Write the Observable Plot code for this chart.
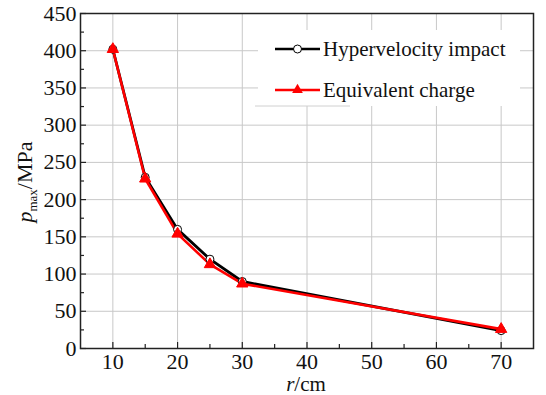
<!DOCTYPE html>
<html><head><meta charset="utf-8">
<script src="https://cdn.jsdelivr.net/npm/d3@7"></script>
<script src="https://cdn.jsdelivr.net/npm/@observablehq/plot@0.6"></script>
<style>body{margin:0;background:#fff} svg text{font-family:"Liberation Serif","DejaVu Serif",serif !important}</style>
</head><body><div id="chart"></div>
<script>
const r = [10, 15, 20, 25, 30, 70];
const impact = [402, 230, 160, 120, 90, 24];
const charge = [402, 228, 154, 113, 87, 26];
const seriesNames = ["Hypervelocity impact", "Equivalent charge"];
const xMajor = [10, 20, 30, 40, 50, 60, 70];
const xMinor = [15, 25, 35, 45, 55, 65];
const yMajor = [0, 50, 100, 150, 200, 250, 300, 350, 400, 450];
const yMinor = [25, 75, 125, 175, 225, 275, 325, 375, 425];

const dImpact = r.map((x, i) => ({x, y: impact[i]}));
const dCharge = r.map((x, i) => ({x, y: charge[i]}));
const font = "Liberation Serif, DejaVu Serif, serif";

const W = 546, H = 395;
const plot = Plot.plot({
  width: W, height: H,
  marginLeft: 80, marginTop: 13, marginRight: 13, marginBottom: 47,
  style: {fontFamily: font, fontSize: "20px", background: "#fff", color: "#111"},
  x: {domain: [5, 75], label: null},
  y: {domain: [0, 450], label: null},
  marks: [
    Plot.gridX(xMajor, {stroke: "#c8c8c8", strokeOpacity: 1}),
    Plot.gridY(yMajor, {stroke: "#c8c8c8", strokeOpacity: 1}),
    Plot.axisX({ticks: xMajor, tickSize: 0, tickPadding: 5, fontSize: 22, tickFormat: d => d}),
    Plot.axisY({ticks: yMajor, tickSize: 0, tickPadding: 4, fontSize: 22, tickFormat: d => d}),
    Plot.axisX({ticks: xMajor, tickSize: 6, dy: -6, text: null, stroke: "#222", strokeWidth: 1.2}),
    Plot.axisX({ticks: xMinor, tickSize: 4, dy: -4, text: null, stroke: "#222", strokeWidth: 1.2}),
    Plot.axisY({ticks: yMajor, tickSize: 6, dx: 6, text: null, stroke: "#222", strokeWidth: 1.2}),
    Plot.axisY({ticks: yMinor, tickSize: 4, dx: 4, text: null, stroke: "#222", strokeWidth: 1.2}),
    Plot.frame({stroke: "#222", strokeWidth: 1.5}),
    Plot.line(dImpact, {x: "x", y: "y", stroke: "#000", strokeWidth: 2.8}),
    Plot.line(dCharge, {x: "x", y: "y", stroke: "#ff0000", strokeWidth: 2.6}),
    Plot.dot(dImpact, {x: "x", y: "y", r: 4, fill: "#fff", stroke: "#000", strokeWidth: 1}),
    Plot.dot(dCharge, {x: "x", y: "y", r: 4.2, symbol: "triangle", fill: "#ff0000", stroke: "#ff0000", strokeWidth: 1})
  ]
});
document.getElementById("chart").appendChild(plot);

const svg = d3.select(plot);
// Legend
const lg = svg.append("g").attr("font-size", 21).attr("text-anchor", "start");
lg.append("rect").attr("x", 258).attr("y", 30).attr("width", 262).attr("height", 76).attr("fill", "#fff");
lg.append("line").attr("x1", 255).attr("x2", 350).attr("y1", 106).attr("y2", 106).attr("stroke", "#d0d0d0");
const rows = [
  {name: seriesNames[0], color: "#000", y: 49},
  {name: seriesNames[1], color: "#ff0000", y: 90}
];
rows.forEach((d, i) => {
  lg.append("line").attr("x1", 275).attr("x2", 320).attr("y1", d.y).attr("y2", d.y)
    .attr("stroke", d.color).attr("stroke-width", 2.6);
  if (i === 0) {
    lg.append("circle").attr("cx", 297.5).attr("cy", d.y).attr("r", 4).attr("fill", "#fff").attr("stroke", "#000");
  } else {
    lg.append("path").attr("d", d3.symbol(d3.symbolTriangle, 50)()).attr("transform", `translate(297.5,${d.y})`).attr("fill", "#ff0000");
  }
  lg.append("text").attr("x", 323).attr("y", d.y).attr("dy", "0.35em").attr("text-anchor", "start").attr("fill", "#111").text(d.name);
});
// Axis labels
svg.append("text").attr("x", 306).attr("y", 391).attr("text-anchor", "middle")
  .attr("font-size", 21).attr("fill", "#111")
  .call(t => { t.append("tspan").attr("font-style", "italic").text("r"); t.append("tspan").text("/cm"); });
svg.append("text").attr("transform", "translate(32,182) rotate(-90)").attr("text-anchor", "middle")
  .attr("font-size", 22).attr("fill", "#111")
  .call(t => {
    t.append("tspan").attr("font-style", "italic").text("p");
    t.append("tspan").attr("font-size", 13).attr("dy", 5).text("max");
    t.append("tspan").attr("dy", -5).text("/MPa");
  });
</script></body></html>
